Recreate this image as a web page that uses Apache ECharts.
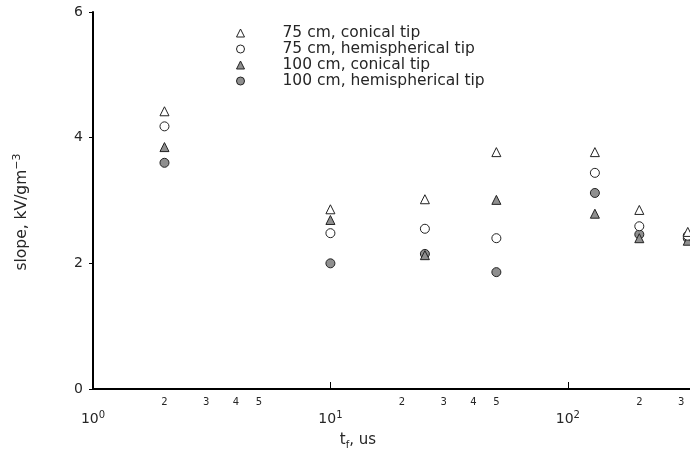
<!DOCTYPE html>
<html>
<head>
<meta charset="utf-8">
<script src="https://cdn.jsdelivr.net/npm/echarts@6/dist/echarts.min.js"></script>
<style>html,body{margin:0;padding:0;background:#fff}#c{width:690px;height:458px}</style>
</head>
<body>
<div id="c"></div>
<script>
// rise time t_f (us)
var tf = [2, 10, 25, 50, 130, 200, 320];
var seriesNames = ['75 cm, conical tip', '75 cm, hemispherical tip', '100 cm, conical tip', '100 cm, hemispherical tip'];
var cone75 = [4.42, 2.86, 3.02, 3.77, 3.77, 2.85, 2.50];
var hemi75 = [4.18, 2.48, 2.55, 2.40, 3.44, 2.59, 2.44];
var cone100 = [3.85, 2.69, 2.13, 3.01, 2.79, 2.40, 2.36];
var hemi100 = [3.60, 2.00, 2.15, 1.86, 3.12, 2.46, 2.40];
var decadeTicks = [1, 10, 100];
var minorTicks = [2, 3, 4, 5, 20, 30, 40, 50, 200, 300];
var yTicks = [0, 2, 4, 6];

var FONT = 'DejaVu Sans';
var TXT = '#262626';
function pairs(ys) { return tf.map(function (x, i) { return [x, ys[i]]; }); }
var styles = [
  {symbol: 'triangle', color: '#ffffff'},
  {symbol: 'circle', color: '#ffffff'},
  {symbol: 'triangle', color: '#8f8f8f'},
  {symbol: 'circle', color: '#8f8f8f'}
];
var values = [cone75, hemi75, cone100, hemi100];

var chart = echarts.init(document.getElementById('c'), null, {renderer: 'canvas'});
chart.setOption({
  animation: false,
  backgroundColor: '#ffffff',
  textStyle: {fontFamily: FONT},
  grid: {left: 93, right: 0, top: 12, bottom: 69, containLabel: false},
  legend: {
    orient: 'vertical', left: 231, top: 20, itemWidth: 8, itemHeight: 8, itemGap: 0,
    itemStyle: {borderWidth: 1, borderColor: '#222'},
    textStyle: {fontFamily: FONT, fontSize: 15.5, color: TXT, lineHeight: 14, padding: [0, 0, 0, 33]},
    data: seriesNames
  },
  xAxis: [{
    type: 'log', logBase: 10, min: 1, max: 327,
    axisLine: {lineStyle: {color: '#000', width: 2}},
    axisTick: {show: true, inside: true, length: 7, customValues: [10, 100], lineStyle: {color: '#000', width: 1}},
    splitLine: {show: false},
    axisLabel: {
      customValues: decadeTicks, margin: 21, color: TXT,
      formatter: function (v) { return '{b|10}{s|' + Math.round(Math.log10(v)) + '}'; },
      rich: {
        b: {fontFamily: FONT, fontSize: 14, lineHeight: 18, color: TXT},
        s: {fontFamily: FONT, fontSize: 10, lineHeight: 18, verticalAlign: 'top', color: TXT}
      }
    }
  }, {
    type: 'log', logBase: 10, min: 1, max: 327, position: 'bottom',
    axisLine: {show: false}, axisTick: {show: false}, splitLine: {show: false},
    axisLabel: {customValues: minorTicks, margin: 8, fontSize: 10, color: TXT, fontFamily: FONT,
      formatter: function (v) { return String(Math.round(v / Math.pow(10, Math.floor(Math.log10(v) + 1e-9)))); }}
  }],
  yAxis: {
    type: 'value', min: 0, max: 6, interval: 2,
    axisLine: {show: true, lineStyle: {color: '#000', width: 2}},
    axisTick: {show: true, inside: false, length: 4, lineStyle: {color: '#000'}},
    splitLine: {show: false},
    axisLabel: {margin: 10, fontSize: 14, color: TXT, fontFamily: FONT, customValues: yTicks}
  },
  graphic: [{
    type: 'text', x: 22, y: 212, rotation: Math.PI / 2,
    style: {text: 'slope, kV/gm{s|−3}', x: 0, y: 0, align: 'center', verticalAlign: 'middle',
      fontFamily: FONT, fontSize: 15.5, fill: TXT,
      rich: {s: {fontFamily: FONT, fontSize: 11, verticalAlign: 'top', lineHeight: 20, fill: TXT}}}
  }, {
    type: 'text', x: 358, y: 440,
    style: {text: 't{s|f}, us', x: 0, y: 0, align: 'center', verticalAlign: 'middle',
      fontFamily: FONT, fontSize: 15, fill: TXT,
      rich: {s: {fontFamily: FONT, fontSize: 10, verticalAlign: 'bottom', lineHeight: 20, fill: TXT}}}
  }],
  series: values.map(function (v, i) {
    return {
      name: seriesNames[i], type: 'scatter', xAxisIndex: 0,
      symbol: styles[i].symbol, symbolSize: 9,
      itemStyle: {color: styles[i].color, borderColor: '#222', borderWidth: 1, opacity: 1},
      data: pairs(v), clip: false, z: 10 - i
    };
  })
});
</script>
</body>
</html>
